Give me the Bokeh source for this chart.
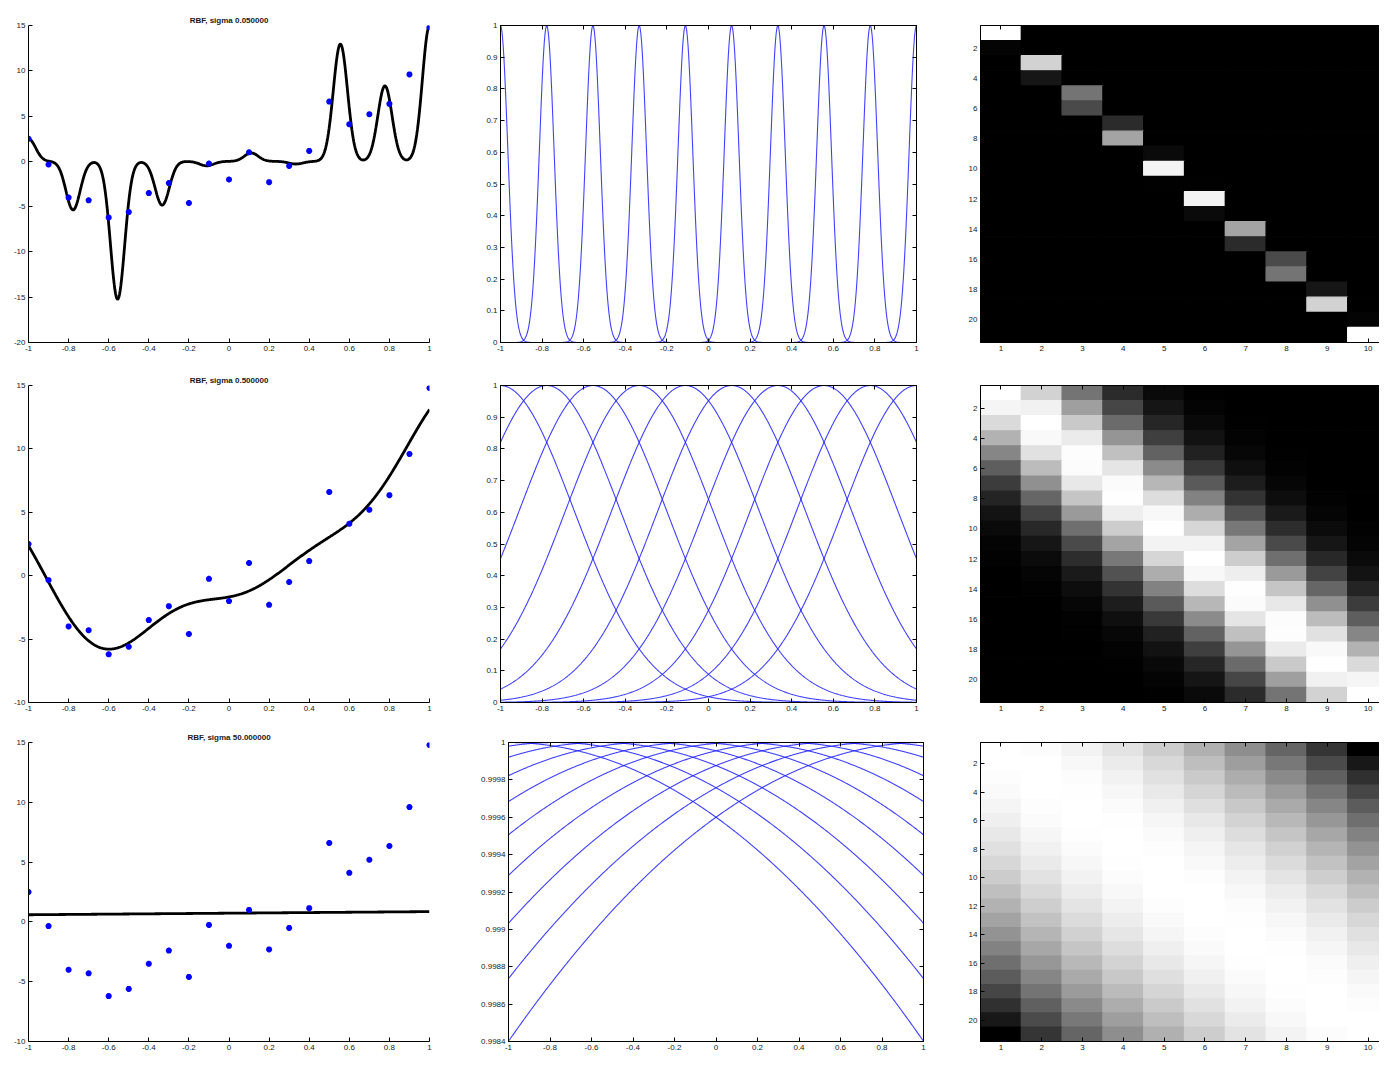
import numpy as np
from bokeh.plotting import figure
from bokeh.layouts import column, row
from bokeh.models import FixedTicker, LinearAxis, Range1d, ColumnDataSource, LinearColorMapper
from bokeh.transform import transform
from bokeh.palettes import Greys256
from bokeh.embed import file_html
from bokeh.resources import INLINE

# ---------------- data ----------------
x_train = [-1.0, -0.9, -0.8, -0.7, -0.6, -0.5, -0.4, -0.3, -0.2, -0.1, 0.0,
           0.1, 0.2, 0.3, 0.4, 0.5, 0.6, 0.7, 0.8, 0.9, 1.0]
y_train = [2.5, -0.35, -4.0, -4.3, -6.2, -5.6, -3.5, -2.4, -4.6, -0.25, -2.0,
           1.0, -2.3, -0.5, 1.15, 6.6, 4.1, 5.2, 6.35, 9.6, 14.8]
centers = [-1.0, -0.7778, -0.5556, -0.3333, -0.1111, 0.1111, 0.3333, 0.5556, 0.7778, 1.0]
sigmas = [0.05, 0.5, 50.0]
titles = ["RBF, sigma 0.050000", "RBF, sigma 0.500000", "RBF, sigma 50.000000"]
ridge_lambda = 0.001

fit_xticks = [-1.0, -0.8, -0.6, -0.4, -0.2, 0.0, 0.2, 0.4, 0.6, 0.8, 1.0]
fit_xtick_labels = ["-1", "-0.8", "-0.6", "-0.4", "-0.2", "0", "0.2", "0.4", "0.6", "0.8", "1"]
fit_yranges = [(-20, 15), (-10, 15), (-10, 15)]
fit_yticks = [[-20, -15, -10, -5, 0, 5, 10, 15],
              [-10, -5, 0, 5, 10, 15],
              [-10, -5, 0, 5, 10, 15]]
fit_ytick_labels = [["-20", "-15", "-10", "-5", "0", "5", "10", "15"],
                    ["-10", "-5", "0", "5", "10", "15"],
                    ["-10", "-5", "0", "5", "10", "15"]]
basis_yranges = [(0.0, 1.0), (0.0, 1.0), (0.9984, 1.0)]
basis_yticks = [[0.0, 0.1, 0.2, 0.3, 0.4, 0.5, 0.6, 0.7, 0.8, 0.9, 1.0],
                [0.0, 0.1, 0.2, 0.3, 0.4, 0.5, 0.6, 0.7, 0.8, 0.9, 1.0],
                [0.9984, 0.9986, 0.9988, 0.999, 0.9992, 0.9994, 0.9996, 0.9998, 1.0]]
basis_ytick_labels = [["0", "0.1", "0.2", "0.3", "0.4", "0.5", "0.6", "0.7", "0.8", "0.9", "1"],
                      ["0", "0.1", "0.2", "0.3", "0.4", "0.5", "0.6", "0.7", "0.8", "0.9", "1"],
                      ["0.9984", "0.9986", "0.9988", "0.999", "0.9992", "0.9994", "0.9996", "0.9998", "1"]]
heat_xticks = [1, 2, 3, 4, 5, 6, 7, 8, 9, 10]
heat_yticks = [2, 4, 6, 8, 10, 12, 14, 16, 18, 20]

# ---------------- model ----------------
def rbf(a, b, s):
    a = np.asarray(a, dtype=float)[:, None]
    b = np.asarray(b, dtype=float)[None, :]
    return np.exp(-((a - b) ** 2) / s ** 2)

xgrid = np.linspace(-1, 1, 600)

FONT = "Liberation Sans"
TICK_FS = "8px"
TXT = "#1a1a1a"

# layout geometry
row_h = [358, 358, 339]
row_tb = [
    [(25, 16), (13, 16), (7, 16)],
    [(27, 14), (15, 14), (10, 14)],
    [(26, 14), (16, 14), (9, 14)],
]
col_w = [470, 470, 439]
col_lr = [
    [(28, 41), (30, 24), (40, 0)],
    [(28, 41), (30, 24), (40, 0)],
    [(28, 41), (38, 17), (40, 0)],
]
HEAT_CELL_PX = 40.8


def style_axis(ax, ticks, labels=None, show_labels=True):
    ax.ticker = FixedTicker(ticks=ticks, minor_ticks=[])
    if labels is not None:
        ax.major_label_overrides = {t: l for t, l in zip(ticks, labels)}
    ax.major_tick_in = 4
    ax.major_tick_out = 0
    ax.minor_tick_in = 0
    ax.minor_tick_out = 0
    ax.axis_line_color = "black"
    ax.axis_line_width = 1
    ax.major_tick_line_color = "black"
    ax.major_label_text_font = FONT
    if show_labels:
        ax.major_label_text_color = TXT
        ax.major_label_text_font_size = TICK_FS
        ax.major_label_standoff = 3
    else:
        ax.major_label_text_color = None
        ax.major_label_text_alpha = 0
        ax.major_label_text_font_size = "1px"
        ax.major_label_standoff = 0


def base_fig(r, c, xr, yr, title=None):
    bt, bb = row_tb[r][c]
    bl, br = col_lr[r][c]
    p = figure(width=col_w[c], height=row_h[r], x_range=Range1d(*xr), y_range=Range1d(*yr),
               output_backend="svg", toolbar_location=None, title=title,
               min_border_top=bt, min_border_bottom=bb, min_border_left=bl, min_border_right=br,
               background_fill_color="white", border_fill_color="white")
    p.grid.visible = False
    if title is not None:
        p.title.text_font = FONT
        p.title.text_font_size = "8px"
        p.title.text_font_style = "bold"
        p.title.text_color = TXT
        p.title.align = "center"
        p.title.standoff = 2
        p.title.offset = 0
    return p


rows = []
for r, s in enumerate(sigmas):
    Phi = rbf(x_train, centers, s)
    A = Phi.T @ Phi + ridge_lambda * np.eye(len(centers))
    w = np.linalg.solve(A, Phi.T @ np.asarray(y_train))
    yfit = rbf(xgrid, centers, s) @ w

    # ---- left: data and fit ----
    p1 = base_fig(r, 0, (-1, 1), fit_yranges[r], title=titles[r])
    p1.outline_line_color = None
    p1.line(xgrid, yfit, line_color="black", line_width=2.8)
    p1.scatter(x_train, y_train, marker="asterisk", size=6, line_color="#0000ff", line_width=2)
    style_axis(p1.xaxis[0], fit_xticks, fit_xtick_labels)
    style_axis(p1.yaxis[0], fit_yticks[r], fit_ytick_labels[r])

    # ---- middle: basis functions ----
    p2 = base_fig(r, 1, (-1, 1), basis_yranges[r])
    p2.outline_line_color = "black"
    B = rbf(xgrid, centers, s)
    for j in range(len(centers)):
        p2.line(xgrid, B[:, j], line_color="#2020ff", line_width=1.1, line_alpha=0.85)
    style_axis(p2.xaxis[0], fit_xticks, fit_xtick_labels)
    style_axis(p2.yaxis[0], basis_yticks[r], basis_ytick_labels[r])
    top2 = LinearAxis()
    style_axis(top2, fit_xticks, show_labels=False)
    p2.add_layout(top2, "above")
    right2 = LinearAxis()
    style_axis(right2, basis_yticks[r], show_labels=False)
    p2.add_layout(right2, "right")

    # ---- right: design matrix ----
    bl, br = col_lr[r][2]
    frame_w = col_w[2] - bl - br
    xmax = 0.5 + frame_w / HEAT_CELL_PX
    p3 = base_fig(r, 2, (0.5, xmax), (21.5, 0.5))
    p3.outline_line_color = "black"
    cols, rws, vals = [], [], []
    for i in range(len(x_train)):
        for j in range(len(centers)):
            cols.append(j + 1)
            rws.append(i + 1)
            vals.append(Phi[i, j])
    src = ColumnDataSource(dict(col=cols, row=rws, val=vals))
    mapper = LinearColorMapper(palette=Greys256, low=float(Phi.min()), high=float(Phi.max()))
    p3.rect(x="col", y="row", width=1, height=1, source=src,
            fill_color=transform("val", mapper), line_color=transform("val", mapper), line_width=1.3)
    style_axis(p3.xaxis[0], heat_xticks)
    style_axis(p3.yaxis[0], heat_yticks)
    top3 = LinearAxis()
    style_axis(top3, heat_xticks, show_labels=False)
    p3.add_layout(top3, "above")

    rows.append(row(p1, p2, p3, spacing=0))

layout = column(*rows, spacing=0)

open("out.html", "w").write(file_html(layout, INLINE))
